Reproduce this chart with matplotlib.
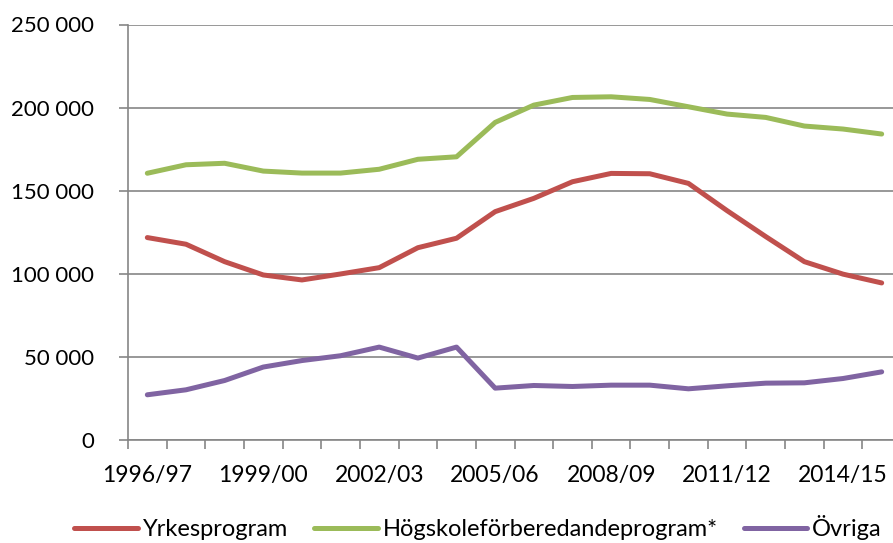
import matplotlib
matplotlib.use("Agg")
import matplotlib.pyplot as plt
from matplotlib.ticker import FuncFormatter, FixedLocator

years = ["1996/97", "1997/98", "1998/99", "1999/00", "2000/01", "2001/02",
         "2002/03", "2003/04", "2004/05", "2005/06", "2006/07", "2007/08",
         "2008/09", "2009/10", "2010/11", "2011/12", "2012/13", "2013/14",
         "2014/15", "2015/16"]

yrkes = [121800, 117800, 107300, 99300, 96300, 99900, 103700, 115700, 121400,
         137400, 145400, 155400, 160400, 160200, 154400, 138000, 122400,
         107300, 99800, 94500]
hogskole = [160500, 165600, 166500, 161800, 160600, 160600, 162900, 168900,
            170400, 191100, 201500, 206100, 206500, 204900, 200500, 196100,
            194100, 188900, 187100, 184100]
ovriga = [27200, 30200, 35800, 43900, 47800, 50700, 55900, 49300, 55900,
          31200, 32800, 32200, 33000, 33000, 30800, 32600, 34200, 34400,
          37000, 41000]

series = [("Yrkesprogram", yrkes, "#C0504D"),
          ("Högskoleförberedandeprogram*", hogskole, "#9BBB59"),
          ("Övriga", ovriga, "#8064A2")]

plt.rcParams["font.family"] = ["Lato", "DejaVu Sans"]
grey = "#868686"

fig = plt.figure(figsize=(8.93, 5.43), dpi=100)
ax = fig.add_axes([128 / 893, 103 / 543, 773 / 893, 415.5 / 543])

x = list(range(len(years)))
for name, vals, col in series:
    ax.plot(x, vals, color=col, lw=3.6, solid_capstyle="round",
            solid_joinstyle="round", label=name)

ax.set_xlim(-0.5, len(years) - 0.5)
ax.set_ylim(0, 250000)
ax.set_yticks(range(0, 250001, 50000))
ax.yaxis.set_major_formatter(FuncFormatter(lambda v, p: f"{int(v):,}".replace(",", " ")))
ax.grid(axis="y", color=grey, lw=1.2)
ax.set_axisbelow(True)

# labels every third year, tick marks between every category
ax.set_xticks(x[::3])
ax.set_xticklabels(years[::3])
ax.xaxis.set_minor_locator(FixedLocator([i - 0.5 for i in range(len(years) + 1)]))
ax.tick_params(axis="x", which="major", length=0, pad=18, labelsize=16.5)
ax.tick_params(axis="x", which="minor", length=6.5, width=1.2, color=grey)
ax.tick_params(axis="y", length=6.5, width=1.2, color=grey, pad=18, labelsize=16)

for s in ["top", "right"]:
    ax.spines[s].set_visible(False)
for s in ["left", "bottom"]:
    ax.spines[s].set_color(grey)
    ax.spines[s].set_linewidth(1.2)

fig.legend(loc="center", bbox_to_anchor=(478 / 893, 1 - 528 / 543), ncol=3,
           frameon=False, fontsize=17, handlelength=2.7, handletextpad=0.2,
           columnspacing=1.1, borderaxespad=0)

fig.savefig("out.png", dpi=100)
